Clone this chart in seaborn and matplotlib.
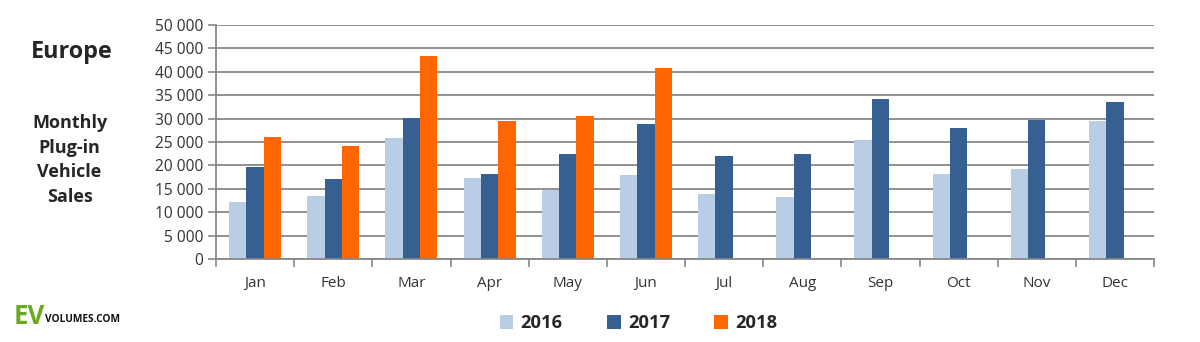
import matplotlib
matplotlib.use("Agg")
import matplotlib.pyplot as plt
import matplotlib.ticker as mticker
from matplotlib.patches import Patch
import seaborn as sns
import pandas as pd
import numpy as np

months = ["Jan", "Feb", "Mar", "Apr", "May", "Jun", "Jul", "Aug", "Sep", "Oct", "Nov", "Dec"]
years = ["2016", "2017", "2018"]
sales_2016 = [12250, 13530, 25780, 17380, 14810, 18020, 13890, 13180, 25360, 18090, 19160, 29420]
sales_2017 = [19730, 17090, 30200, 18160, 22510, 28920, 22080, 22510, 34260, 28060, 29770, 33550]
sales_2018 = [26070, 24070, 43450, 29490, 30630, 40740, np.nan, np.nan, np.nan, np.nan, np.nan, np.nan]
colors = ["#B9CDE5", "#376092", "#FF6600"]

rows = []
for y, vals in zip(years, [sales_2016, sales_2017, sales_2018]):
    for m, v in zip(months, vals):
        rows.append({"Month": m, "Year": y, "Sales": v})
df = pd.DataFrame(rows)

sns.set_theme(style="white")
plt.rcParams["font.family"] = ["Open Sans", "DejaVu Sans"]

fig = plt.figure(figsize=(12, 3.42), dpi=100)
ax = fig.add_axes([0.18, 0.2427, 0.7817, 0.6842])

sns.barplot(data=df, x="Month", y="Sales", hue="Year", order=months, hue_order=years,
            palette=colors, width=0.665, saturation=1, ax=ax, legend=False,
            edgecolor="none", linewidth=0)

ax.set_ylim(0, 50000)
ax.set_xlim(-0.5, 11.5)
ax.yaxis.set_major_locator(mticker.MultipleLocator(5000))
ax.yaxis.set_major_formatter(mticker.FuncFormatter(lambda v, p: f"{int(v):,}".replace(",", " ")))
ax.yaxis.grid(True, color="#888888", linewidth=1.3)
ax.set_axisbelow(True)
ax.set_xlabel("")
ax.set_ylabel("")

for s in ["top", "right"]:
    ax.spines[s].set_visible(False)
ax.spines["left"].set_color("#888888")
ax.spines["bottom"].set_color("#888888")
ax.spines["left"].set_linewidth(1.3)
ax.spines["bottom"].set_linewidth(1.3)

ax.tick_params(axis="y", left=True, length=6, width=1.2, color="#888888",
               labelsize=11.2, labelcolor="#333333", pad=3)
ax.set_xticks(np.arange(12))
ax.set_xticklabels(months)
ax.tick_params(axis="x", bottom=False, labelsize=11, labelcolor="#333333", pad=6)
ax.set_xticks(np.arange(-0.5, 12, 1), minor=True)
ax.tick_params(axis="x", which="minor", bottom=True, length=6, width=1.2, color="#888888")

fig.text(0.06, 0.848, "Europe", ha="center", va="center", fontsize=16.8,
         fontweight="bold", color="#262626")
for i, t in enumerate(["Monthly", "Plug-in", "Vehicle", "Sales"]):
    fig.text(0.058, 1 - (123 + i * 24.7) / 342, t, ha="center", va="center",
             fontsize=13, fontweight="bold", color="#262626")

handles = [Patch(facecolor=c, edgecolor="none") for c in colors]
leg = fig.legend(handles, years, loc="center", bbox_to_anchor=(0.532, 0.055), ncol=3,
                 frameon=False, handlelength=0.75, handleheight=0.75, handletextpad=0.4,
                 columnspacing=2.4, prop={"weight": "bold", "size": 13.2})
for t in leg.get_texts():
    t.set_color("#262626")

fig.text(0.011, 0.053, "EV", fontsize=18.5, fontweight="bold", color="#6AAA1E",
         ha="left", va="baseline")
fig.text(0.0375, 0.058, "VOLUMES.COM", fontsize=7.3, fontweight="bold", color="#111111",
         ha="left", va="baseline")

fig.savefig("out.png", dpi=100)
